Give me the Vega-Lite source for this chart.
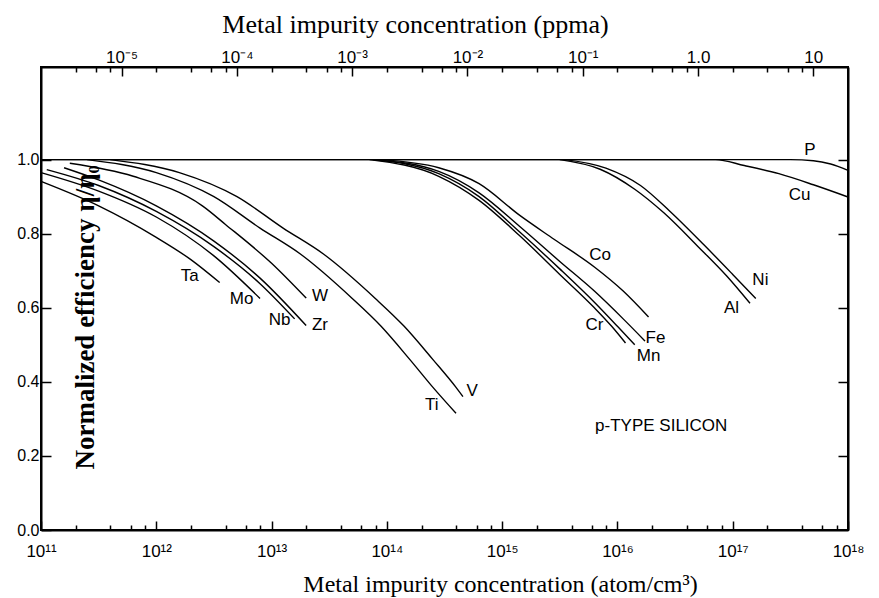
{
  "$schema": "https://vega.github.io/schema/vega-lite/v6.json",
  "width": 807,
  "height": 463,
  "autosize": {"type": "none"},
  "padding": {"left": 41, "top": 67, "right": 31, "bottom": 68},
  "background": "white",
  "config": {
    "view": {"stroke": "black", "strokeWidth": 2},
    "axis": {"domainColor": "black", "domainWidth": 2, "tickColor": "black", "tickWidth": 1.5, "labelColor": "black", "titleColor": "black", "grid": false}
  },
  "datasets": {
    "curves": [
      {"metal": "P", "N": 1e11, "eta": 1.0}, {"metal": "P", "N": 3.162e17, "eta": 1.0}, {"metal": "P", "N": 5.012e17, "eta": 0.997}, {"metal": "P", "N": 7.079e17, "eta": 0.988}, {"metal": "P", "N": 1e18, "eta": 0.971},
      {"metal": "Cu", "N": 1e11, "eta": 1.0}, {"metal": "Cu", "N": 7.079e16, "eta": 1.0}, {"metal": "Cu", "N": 1.259e17, "eta": 0.984}, {"metal": "Cu", "N": 2.512e17, "eta": 0.962}, {"metal": "Cu", "N": 5.012e17, "eta": 0.932}, {"metal": "Cu", "N": 1e18, "eta": 0.899},
      {"metal": "Ta", "N": 1e11, "eta": 0.941}, {"metal": "Ta", "N": 3.162e11, "eta": 0.875}, {"metal": "Ta", "N": 1e12, "eta": 0.79}, {"metal": "Ta", "N": 1.995e12, "eta": 0.73}, {"metal": "Ta", "N": 3.548e12, "eta": 0.668},
      {"metal": "Mo", "N": 1e11, "eta": 0.965}, {"metal": "Mo", "N": 3.162e11, "eta": 0.915}, {"metal": "Mo", "N": 1e12, "eta": 0.845}, {"metal": "Mo", "N": 3.162e12, "eta": 0.74}, {"metal": "Mo", "N": 7.943e12, "eta": 0.625},
      {"metal": "Nb", "N": 1.122e11, "eta": 0.973}, {"metal": "Nb", "N": 3.162e11, "eta": 0.93}, {"metal": "Nb", "N": 1e12, "eta": 0.86}, {"metal": "Nb", "N": 3.162e12, "eta": 0.765}, {"metal": "Nb", "N": 7.943e12, "eta": 0.665}, {"metal": "Nb", "N": 1.585e13, "eta": 0.57},
      {"metal": "Zr", "N": 1.585e11, "eta": 0.978}, {"metal": "Zr", "N": 3.162e11, "eta": 0.945}, {"metal": "Zr", "N": 1e12, "eta": 0.875}, {"metal": "Zr", "N": 3.162e12, "eta": 0.78}, {"metal": "Zr", "N": 7.943e12, "eta": 0.68}, {"metal": "Zr", "N": 1.995e13, "eta": 0.552},
      {"metal": "W", "N": 1.778e11, "eta": 0.99}, {"metal": "W", "N": 6.31e11, "eta": 0.955}, {"metal": "W", "N": 2.512e12, "eta": 0.875}, {"metal": "W", "N": 3.981e12, "eta": 0.825}, {"metal": "W", "N": 1e13, "eta": 0.72}, {"metal": "W", "N": 1.995e13, "eta": 0.626},
      {"metal": "Ti", "N": 2.512e11, "eta": 1.0}, {"metal": "Ti", "N": 1e12, "eta": 0.965}, {"metal": "Ti", "N": 3.162e12, "eta": 0.9}, {"metal": "Ti", "N": 7.943e12, "eta": 0.815}, {"metal": "Ti", "N": 1.778e13, "eta": 0.745}, {"metal": "Ti", "N": 5.012e13, "eta": 0.625}, {"metal": "Ti", "N": 8.913e13, "eta": 0.55}, {"metal": "Ti", "N": 1.585e14, "eta": 0.46}, {"metal": "Ti", "N": 2.512e14, "eta": 0.385}, {"metal": "Ti", "N": 3.981e14, "eta": 0.315},
      {"metal": "V", "N": 3.981e11, "eta": 1.0}, {"metal": "V", "N": 1.585e12, "eta": 0.965}, {"metal": "V", "N": 5.012e12, "eta": 0.9}, {"metal": "V", "N": 1.259e13, "eta": 0.815}, {"metal": "V", "N": 2.818e13, "eta": 0.745}, {"metal": "V", "N": 7.943e13, "eta": 0.625}, {"metal": "V", "N": 1.413e14, "eta": 0.55}, {"metal": "V", "N": 2.512e14, "eta": 0.46}, {"metal": "V", "N": 3.981e14, "eta": 0.385}, {"metal": "V", "N": 4.571e14, "eta": 0.36},
      {"metal": "Co", "N": 8.913e13, "eta": 1.0}, {"metal": "Co", "N": 2.818e14, "eta": 0.978}, {"metal": "Co", "N": 6.31e14, "eta": 0.935}, {"metal": "Co", "N": 1.413e15, "eta": 0.85}, {"metal": "Co", "N": 2.818e15, "eta": 0.785}, {"metal": "Co", "N": 6.31e15, "eta": 0.71}, {"metal": "Co", "N": 1.122e16, "eta": 0.645}, {"metal": "Co", "N": 1.862e16, "eta": 0.575},
      {"metal": "Fe", "N": 7.943e13, "eta": 1.0}, {"metal": "Fe", "N": 2.818e14, "eta": 0.968}, {"metal": "Fe", "N": 6.31e14, "eta": 0.91}, {"metal": "Fe", "N": 1.413e15, "eta": 0.82}, {"metal": "Fe", "N": 3.162e15, "eta": 0.725}, {"metal": "Fe", "N": 6.31e15, "eta": 0.645}, {"metal": "Fe", "N": 1.122e16, "eta": 0.57}, {"metal": "Fe", "N": 1.738e16, "eta": 0.51},
      {"metal": "Mn", "N": 7.586e13, "eta": 1.0}, {"metal": "Mn", "N": 2.818e14, "eta": 0.962}, {"metal": "Mn", "N": 6.31e14, "eta": 0.9}, {"metal": "Mn", "N": 1.413e15, "eta": 0.805}, {"metal": "Mn", "N": 3.162e15, "eta": 0.705}, {"metal": "Mn", "N": 6.31e15, "eta": 0.615}, {"metal": "Mn", "N": 1e16, "eta": 0.55}, {"metal": "Mn", "N": 1.413e16, "eta": 0.5},
      {"metal": "Cr", "N": 7.079e13, "eta": 1.0}, {"metal": "Cr", "N": 2.818e14, "eta": 0.955}, {"metal": "Cr", "N": 6.31e14, "eta": 0.89}, {"metal": "Cr", "N": 1.413e15, "eta": 0.795}, {"metal": "Cr", "N": 3.162e15, "eta": 0.69}, {"metal": "Cr", "N": 6.31e15, "eta": 0.6}, {"metal": "Cr", "N": 8.913e15, "eta": 0.55}, {"metal": "Cr", "N": 1.175e16, "eta": 0.505},
      {"metal": "Ni", "N": 3.548e15, "eta": 1.0}, {"metal": "Ni", "N": 7.943e15, "eta": 0.977}, {"metal": "Ni", "N": 1.585e16, "eta": 0.93}, {"metal": "Ni", "N": 2.818e16, "eta": 0.862}, {"metal": "Ni", "N": 5.623e16, "eta": 0.77}, {"metal": "Ni", "N": 1e17, "eta": 0.69}, {"metal": "Ni", "N": 1.585e17, "eta": 0.625},
      {"metal": "Al", "N": 3.162e15, "eta": 1.0}, {"metal": "Al", "N": 7.079e15, "eta": 0.974}, {"metal": "Al", "N": 1.413e16, "eta": 0.92}, {"metal": "Al", "N": 2.512e16, "eta": 0.857}, {"metal": "Al", "N": 5.012e16, "eta": 0.765}, {"metal": "Al", "N": 8.913e16, "eta": 0.685}, {"metal": "Al", "N": 1.413e17, "eta": 0.612}
    ],
    "labels": [
      {"label": "Ta", "N": 1.95e12, "eta": 0.685},
      {"label": "Mo", "N": 5.495e12, "eta": 0.623},
      {"label": "Nb", "N": 1.175e13, "eta": 0.566},
      {"label": "Zr", "N": 2.63e13, "eta": 0.554},
      {"label": "W", "N": 2.63e13, "eta": 0.631},
      {"label": "V", "N": 5.495e14, "eta": 0.374},
      {"label": "Ti", "N": 2.455e14, "eta": 0.338},
      {"label": "Co", "N": 7.079e15, "eta": 0.743},
      {"label": "Cr", "N": 6.31e15, "eta": 0.554},
      {"label": "Fe", "N": 2.138e16, "eta": 0.518},
      {"label": "Mn", "N": 1.862e16, "eta": 0.47},
      {"label": "Ni", "N": 1.738e17, "eta": 0.676},
      {"label": "Al", "N": 9.772e16, "eta": 0.599},
      {"label": "P", "N": 4.677e17, "eta": 1.027},
      {"label": "Cu", "N": 3.802e17, "eta": 0.905},
      {"label": "p-TYPE SILICON", "N": 2.399e16, "eta": 0.28}
    ]
  },
  "resolve": {"axis": {"x": "independent", "y": "independent"}},
  "layer": [
    {
      "data": {"name": "curves"},
      "mark": {"type": "line", "color": "black", "strokeWidth": 1.4, "interpolate": "monotone"},
      "encoding": {
        "x": {
          "field": "N", "type": "quantitative",
          "scale": {"type": "log", "domain": [1e11, 1e18], "nice": false},
          "axis": {
            "orient": "bottom",
            "values": [1e11, 2e11, 4e11, 6e11, 8e11, 1e12, 2e12, 4e12, 6e12, 8e12, 1e13, 2e13, 4e13, 6e13, 8e13, 1e14, 2e14, 4e14, 6e14, 8e14, 1e15, 2e15, 4e15, 6e15, 8e15, 1e16, 2e16, 4e16, 6e16, 8e16, 1e17, 2e17, 4e17, 6e17, 8e17, 1e18],
            "labelExpr": "abs(log(datum.value)/LN10 - round(log(datum.value)/LN10)) < 1e-6 ? ['10¹¹','10¹²','10¹³','10¹⁴','10¹⁵','10¹⁶','10¹⁷','10¹⁸'][round(log(datum.value)/LN10) - 11] : ''",
            "tickSize": {"condition": {"test": "abs(log(datum.value)/LN10 - round(log(datum.value)/LN10)) < 1e-6", "value": -9}, "value": -5},
            "labelPadding": 22,
            "labelFont": "Liberation Sans",
            "labelFontSize": 17,
            "labelOverlap": false,
            "labelFlush": false,
            "labelBound": false,
            "title": "Metal impurity concentration (atom/cm³)",
            "titleFont": "Liberation Serif",
            "titleFontSize": 24,
            "titleFontWeight": "normal",
            "titleX": 459,
            "titleY": 61,
            "titleBaseline": "alphabetic"
          }
        },
        "y": {
          "field": "eta", "type": "quantitative",
          "scale": {"domain": [0, 1.25], "nice": false, "zero": true},
          "axis": {
            "orient": "left",
            "values": [0, 0.2, 0.4, 0.6, 0.8, 1.0],
            "format": ".1f",
            "tickSize": -10,
            "labelPadding": 12,
            "labelFont": "Liberation Sans",
            "labelFontSize": 16,
            "title": "Normalized efficiency η/η₀",
            "titleFont": "Liberation Serif",
            "titleFontSize": 27,
            "titleFontWeight": "bold",
            "titleAngle": -90,
            "titleX": 52,
            "titleY": 250,
            "titleAlign": "center",
            "titleBaseline": "alphabetic",
            "zindex": 1
          }
        },
        "detail": {"field": "metal"},
        "order": {"field": "N", "type": "quantitative"}
      }
    },
    {
      "data": {"name": "labels"},
      "mark": {"type": "text", "font": "Liberation Sans", "fontSize": 17, "color": "black", "align": "center", "baseline": "middle"},
      "encoding": {
        "x": {
          "field": "N", "type": "quantitative",
          "axis": {
            "orient": "top",
            "values": [2e11, 3e11, 4e11, 5e11, 1e12, 2e12, 3e12, 4e12, 5e12, 1e13, 2e13, 3e13, 4e13, 5e13, 1e14, 2e14, 3e14, 4e14, 5e14, 1e15, 2e15, 3e15, 4e15, 5e15, 1e16, 2e16, 3e16, 4e16, 5e16, 1e17, 2e17, 3e17, 4e17, 5e17],
            "labelExpr": "abs(log(datum.value/5e16)/LN10 - round(log(datum.value/5e16)/LN10)) < 1e-6 ? ['10⁻⁵','10⁻⁴','10⁻³','10⁻²','10⁻¹','1.0','10'][round(log(datum.value/5e16)/LN10) + 5] : ''",
            "tickSize": {"condition": {"test": "abs(log(datum.value/5e16)/LN10 - round(log(datum.value/5e16)/LN10)) < 1e-6", "value": -9}, "value": -5},
            "labelPadding": 10,
            "labelFont": "Liberation Sans",
            "labelFontSize": 17,
            "labelOverlap": false,
            "labelFlush": false,
            "labelBound": false,
            "title": "Metal impurity concentration (ppma)",
            "titleFont": "Liberation Serif",
            "titleFontSize": 26,
            "titleFontWeight": "normal",
            "titleX": 374,
            "titleY": -35,
            "titleBaseline": "alphabetic"
          }
        },
        "y": {
          "field": "eta", "type": "quantitative",
          "axis": {
            "orient": "right",
            "values": [0.2, 0.4, 0.6, 0.8, 1.0],
            "labels": false,
            "tickSize": -10,
            "title": null
          }
        },
        "text": {"field": "label"}
      }
    }
  ]
}
